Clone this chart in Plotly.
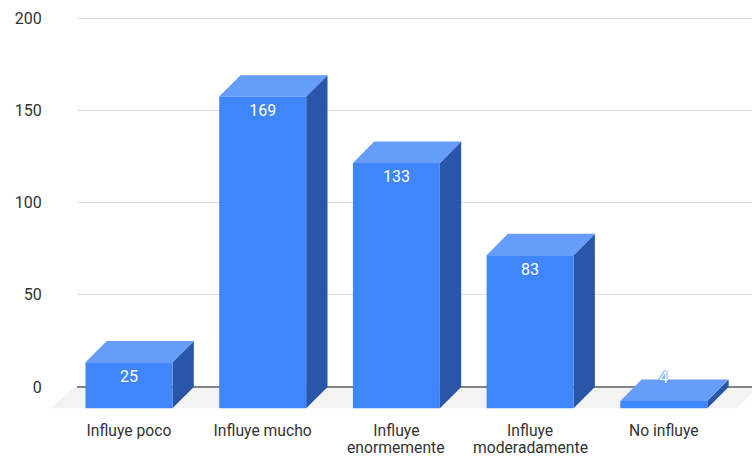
import plotly.graph_objects as go

categories = ["Influye poco", "Influye mucho", "Influye<br>enormemente", "Influye<br>moderadamente", "No influye"]
values = [25, 169, 133, 83, 4]
y_ticks = [0, 50, 100, 150, 200]

W, H = 752, 458
UNIT = 133.7          # px per category
PXV = 1.845           # px per value unit
ORIGIN_X = 129        # px of first category's front centre
ZERO_Y = 387          # px of value 0 on the back wall
BOTTOM = 415          # px of plot bottom
DEPTH = 21.3          # px of the 3D offset
HALF = 43.5 / UNIT
DX = DEPTH / UNIT
DY = DEPTH / PXV

FRONT, TOP, SIDE = "#4086fb", "#669dfb", "#2a56a8"
FLOOR = "#f3f3f3"
TEXT = "#333333"
CAT_SIZE = 15.7

y_range = [-(BOTTOM - ZERO_Y) / PXV, ZERO_Y / PXV]
x_range = [-ORIGIN_X / UNIT, (W - ORIGIN_X) / UNIT]

fig = go.Figure()


def poly(xs, ys, color):
    fig.add_trace(go.Scatter(x=xs, y=ys, xaxis="x2", yaxis="y2", mode="lines", fill="toself",
                             fillcolor=color, line=dict(width=0), hoverinfo="skip", showlegend=False))


# invisible carrier for the primary axes (gridlines and value ticks)
fig.add_trace(go.Scatter(x=[0], y=[0], mode="markers", marker=dict(opacity=0), hoverinfo="skip", showlegend=False))

# floor (back edge just under the zero line so the line stays fully visible)
fl, fr = (51 - ORIGIN_X) / UNIT, (737 - ORIGIN_X) / UNIT
back = -1 / PXV
poly([fl, fr, fr + DX, fl + DX, fl], [-DY, -DY, back, back, -DY], FLOOR)

# bars
for i, v in enumerate(values):
    l, r = i - HALF, i + HALF
    t, b = v - DY, -DY
    poly([r, r + DX, r + DX, r, r], [b, 0, v, t, b], SIDE)
    poly([l, r, r + DX, l + DX, l], [t, t, v, v, t], TOP)
    poly([l, r, r, l, l], [b, b, t, t, b], FRONT)

# data labels: white with a blue halo, which shows where a label leaves its bar
label_y = [max(v - DY - 8.4, 4.6) for v in values]
HALO = "0 0 2px #4086fb, 0 0 2px #4086fb, 0 0 1px #4086fb"
fig.add_trace(go.Scatter(x=list(range(len(values))), y=label_y, xaxis="x2", yaxis="y2", mode="text",
                         text=[str(v) for v in values], textposition="middle center",
                         textfont=dict(family="Roboto", size=16, color="#ffffff", shadow=HALO),
                         hoverinfo="skip", showlegend=False))

# category labels: first line on the axis, second line set at the reference's tighter leading
first_lines = [c.split("<br>")[0] for c in categories]
annotations = [
    dict(x=i, xref="x2", y=(H - 447) / H, yref="paper", yanchor="middle", xanchor="center", showarrow=False,
         text=c.split("<br>")[1], font=dict(family="Roboto", size=CAT_SIZE, color=TEXT))
    for i, c in enumerate(categories) if "<br>" in c
]

fig.update_layout(
    width=W, height=H, margin=dict(l=0, r=0, t=0, b=0),
    paper_bgcolor="white", plot_bgcolor="rgba(0,0,0,0)",
    annotations=annotations,
    xaxis=dict(domain=[77 / W, 1], range=x_range, visible=False, fixedrange=True),
    yaxis=dict(domain=[(H - BOTTOM) / H, 1], range=y_range, tickvals=y_ticks,
               showgrid=True, gridcolor="#dcdcdc", gridwidth=1,
               zeroline=True, zerolinecolor="#858585", zerolinewidth=2,
               showline=False, ticks="outside", ticklen=31, tickcolor="rgba(0,0,0,0)",
               tickfont=dict(family="Roboto", size=16, color=TEXT), fixedrange=True, automargin=False),
    xaxis2=dict(domain=[0, 1], range=x_range, anchor="y2", tickvals=list(range(len(categories))),
                ticktext=first_lines, showgrid=False, zeroline=False, showline=False,
                ticks="outside", ticklen=1, tickcolor="rgba(0,0,0,0)", automargin=False,
                tickfont=dict(family="Roboto", size=CAT_SIZE, color=TEXT), fixedrange=True),
    yaxis2=dict(domain=[(H - BOTTOM) / H, 1], range=y_range, anchor="x2", visible=False, fixedrange=True),
)

fig.write_html("out.html", config={"displayModeBar": False},
               post_script="document.documentElement.style.margin='0';document.body.style.margin='0';document.body.style.overflow='hidden';")
